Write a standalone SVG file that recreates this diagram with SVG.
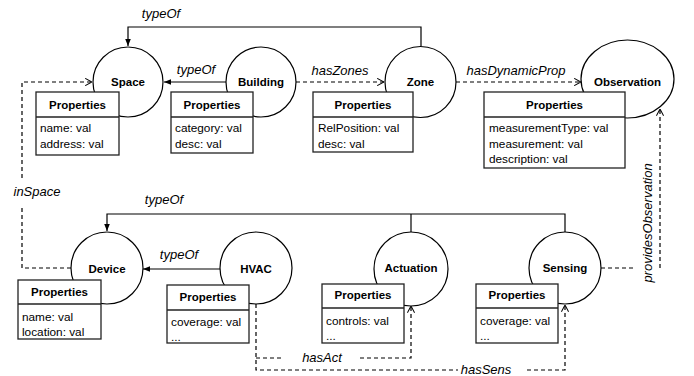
<svg xmlns="http://www.w3.org/2000/svg" width="694" height="376" viewBox="0 0 694 376">
<defs>
<style>
.node{fill:#fff;stroke:#000;stroke-width:1.2}
.box{fill:#fff;stroke:#222;stroke-width:1.3}
.div{stroke:#222;stroke-width:1.3}
.nl{font-family:"Liberation Sans",Arial,sans-serif;font-weight:bold;font-size:11.5px;text-anchor:middle;fill:#000}
.ph{font-family:"Liberation Sans",Arial,sans-serif;font-weight:bold;font-size:11.5px;text-anchor:middle;fill:#000}
.pt{font-family:"Liberation Sans",Arial,sans-serif;font-size:11.8px;fill:#000}
.el{font-family:"Liberation Sans",Arial,sans-serif;font-style:italic;font-size:13px;text-anchor:middle;fill:#000}
.solid{fill:none;stroke:#000;stroke-width:1.2;marker-end:url(#tri)}
.line{fill:none;stroke:#000;stroke-width:1.2}
.dash{fill:none;stroke:#000;stroke-width:1.2;stroke-dasharray:4,3}
.darrow{fill:none;stroke:#000;stroke-width:1.2;stroke-dasharray:4,3;marker-end:url(#open)}
</style>
<marker id="tri" viewBox="0 0 10 10" refX="10" refY="5" markerWidth="7" markerHeight="7" orient="auto" markerUnits="userSpaceOnUse"><path d="M0,1 L10,5 L0,9 z" fill="#000"/></marker>
<marker id="open" viewBox="0 0 10 10" refX="9.5" refY="5" markerWidth="8" markerHeight="8" orient="auto" markerUnits="userSpaceOnUse"><path d="M1,0.5 L9.5,5 L1,9.5" fill="none" stroke="#000" stroke-width="1.3"/></marker>
</defs>
<rect width="694" height="376" fill="#fff"/>

<g id="connectors">
<path class="solid" d="M421,46 V27 H128 V46"/>
<text class="el" x="161" y="18">typeOf</text>
<path class="solid" d="M226,82 H164"/>
<text class="el" x="196" y="74">typeOf</text>
<path class="darrow" d="M296,82 H384"/>
<text class="el" x="340" y="75">hasZones</text>
<path class="darrow" d="M456,82 H581"/>
<text class="el" x="516" y="75">hasDynamicProp</text>
<path class="dash" d="M601,268 H633"/>
<path class="darrow" d="M660,268 V109"/>
<text class="el" transform="translate(652,223) rotate(-90)">providesObservation</text>
<path class="dash" d="M71,268 H22 V205"/>
<path class="darrow" d="M22,178 V82 H92"/>
<text class="el" x="37" y="196">inSpace</text>
<path class="line" d="M565,232 V214 H411"/>
<path class="line" d="M411,232 V214"/>
<path class="solid" d="M411,214 H107 V231"/>
<text class="el" x="164" y="204">typeOf</text>
<path class="solid" d="M220,269 H143"/>
<text class="el" x="179" y="259">typeOf</text>
<path class="dash" d="M256,304 V370 H458"/>
<path class="dash" d="M256,358 H283"/>
<path class="darrow" d="M360,358 H411 V306"/>
<text class="el" x="322" y="362">hasAct</text>
<path class="darrow" d="M527,370 H565 V305"/>
<text class="el" x="486" y="374">hasSens</text>
</g>

<g id="space">
<circle class="node" cx="128" cy="82" r="35"/>
<text class="nl" x="128" y="86">Space</text>
<rect class="box" x="36" y="92" width="83" height="63"/>
<line class="div" x1="36" y1="117" x2="119" y2="117"/>
<text class="ph" x="77.5" y="108.5">Properties</text>
<text class="pt" x="40" y="132">name: val</text>
<text class="pt" x="40" y="148">address: val</text>
</g>

<g id="building">
<circle class="node" cx="261" cy="82" r="35"/>
<text class="nl" x="261" y="86">Building</text>
<rect class="box" x="171" y="92" width="82" height="61"/>
<line class="div" x1="171" y1="117" x2="253" y2="117"/>
<text class="ph" x="212" y="108.5">Properties</text>
<text class="pt" x="175" y="132">category: val</text>
<text class="pt" x="175" y="148">desc: val</text>
</g>

<g id="zone">
<circle class="node" cx="420.5" cy="82" r="35.5"/>
<text class="nl" x="420.5" y="86">Zone</text>
<rect class="box" x="313" y="92" width="100" height="60"/>
<line class="div" x1="313" y1="117" x2="413" y2="117"/>
<text class="ph" x="363" y="108.5">Properties</text>
<text class="pt" x="318" y="132">RelPosition: val</text>
<text class="pt" x="318" y="148">desc: val</text>
</g>

<g id="observation">
<ellipse class="node" cx="627.5" cy="79" rx="46.5" ry="39"/>
<text class="nl" x="627.5" y="86">Observation</text>
<rect class="box" x="484" y="92" width="141" height="76"/>
<line class="div" x1="484" y1="117" x2="625" y2="117"/>
<text class="ph" x="554.5" y="108.5">Properties</text>
<text class="pt" x="489" y="132">measurementType: val</text>
<text class="pt" x="489" y="148">measurement: val</text>
<text class="pt" x="489" y="163">description: val</text>
</g>

<g id="device">
<circle class="node" cx="107" cy="268" r="36"/>
<text class="nl" x="107" y="273">Device</text>
<rect class="box" x="18" y="280" width="83" height="59"/>
<line class="div" x1="18" y1="304" x2="101" y2="304"/>
<text class="ph" x="59.5" y="296">Properties</text>
<text class="pt" x="22" y="321">name: val</text>
<text class="pt" x="22" y="336">location: val</text>
</g>

<g id="hvac">
<circle class="node" cx="256" cy="268" r="36"/>
<text class="nl" x="256" y="273">HVAC</text>
<rect class="box" x="167" y="285" width="82" height="58"/>
<line class="div" x1="167" y1="310" x2="249" y2="310"/>
<text class="ph" x="208" y="301">Properties</text>
<text class="pt" x="171" y="326">coverage: val</text>
<text class="pt" x="171" y="341">...</text>
</g>

<g id="actuation">
<circle class="node" cx="411" cy="269" r="37"/>
<text class="nl" x="411" y="272">Actuation</text>
<rect class="box" x="322" y="284" width="82" height="59"/>
<line class="div" x1="322" y1="308" x2="404" y2="308"/>
<text class="ph" x="363" y="299">Properties</text>
<text class="pt" x="326" y="325">controls: val</text>
<text class="pt" x="326" y="340">...</text>
</g>

<g id="sensing">
<circle class="node" cx="565" cy="268" r="36"/>
<text class="nl" x="565" y="272">Sensing</text>
<rect class="box" x="476" y="284" width="82" height="59"/>
<line class="div" x1="476" y1="308" x2="558" y2="308"/>
<text class="ph" x="517" y="299">Properties</text>
<text class="pt" x="480" y="325">coverage: val</text>
<text class="pt" x="480" y="340">...</text>
</g>
</svg>
